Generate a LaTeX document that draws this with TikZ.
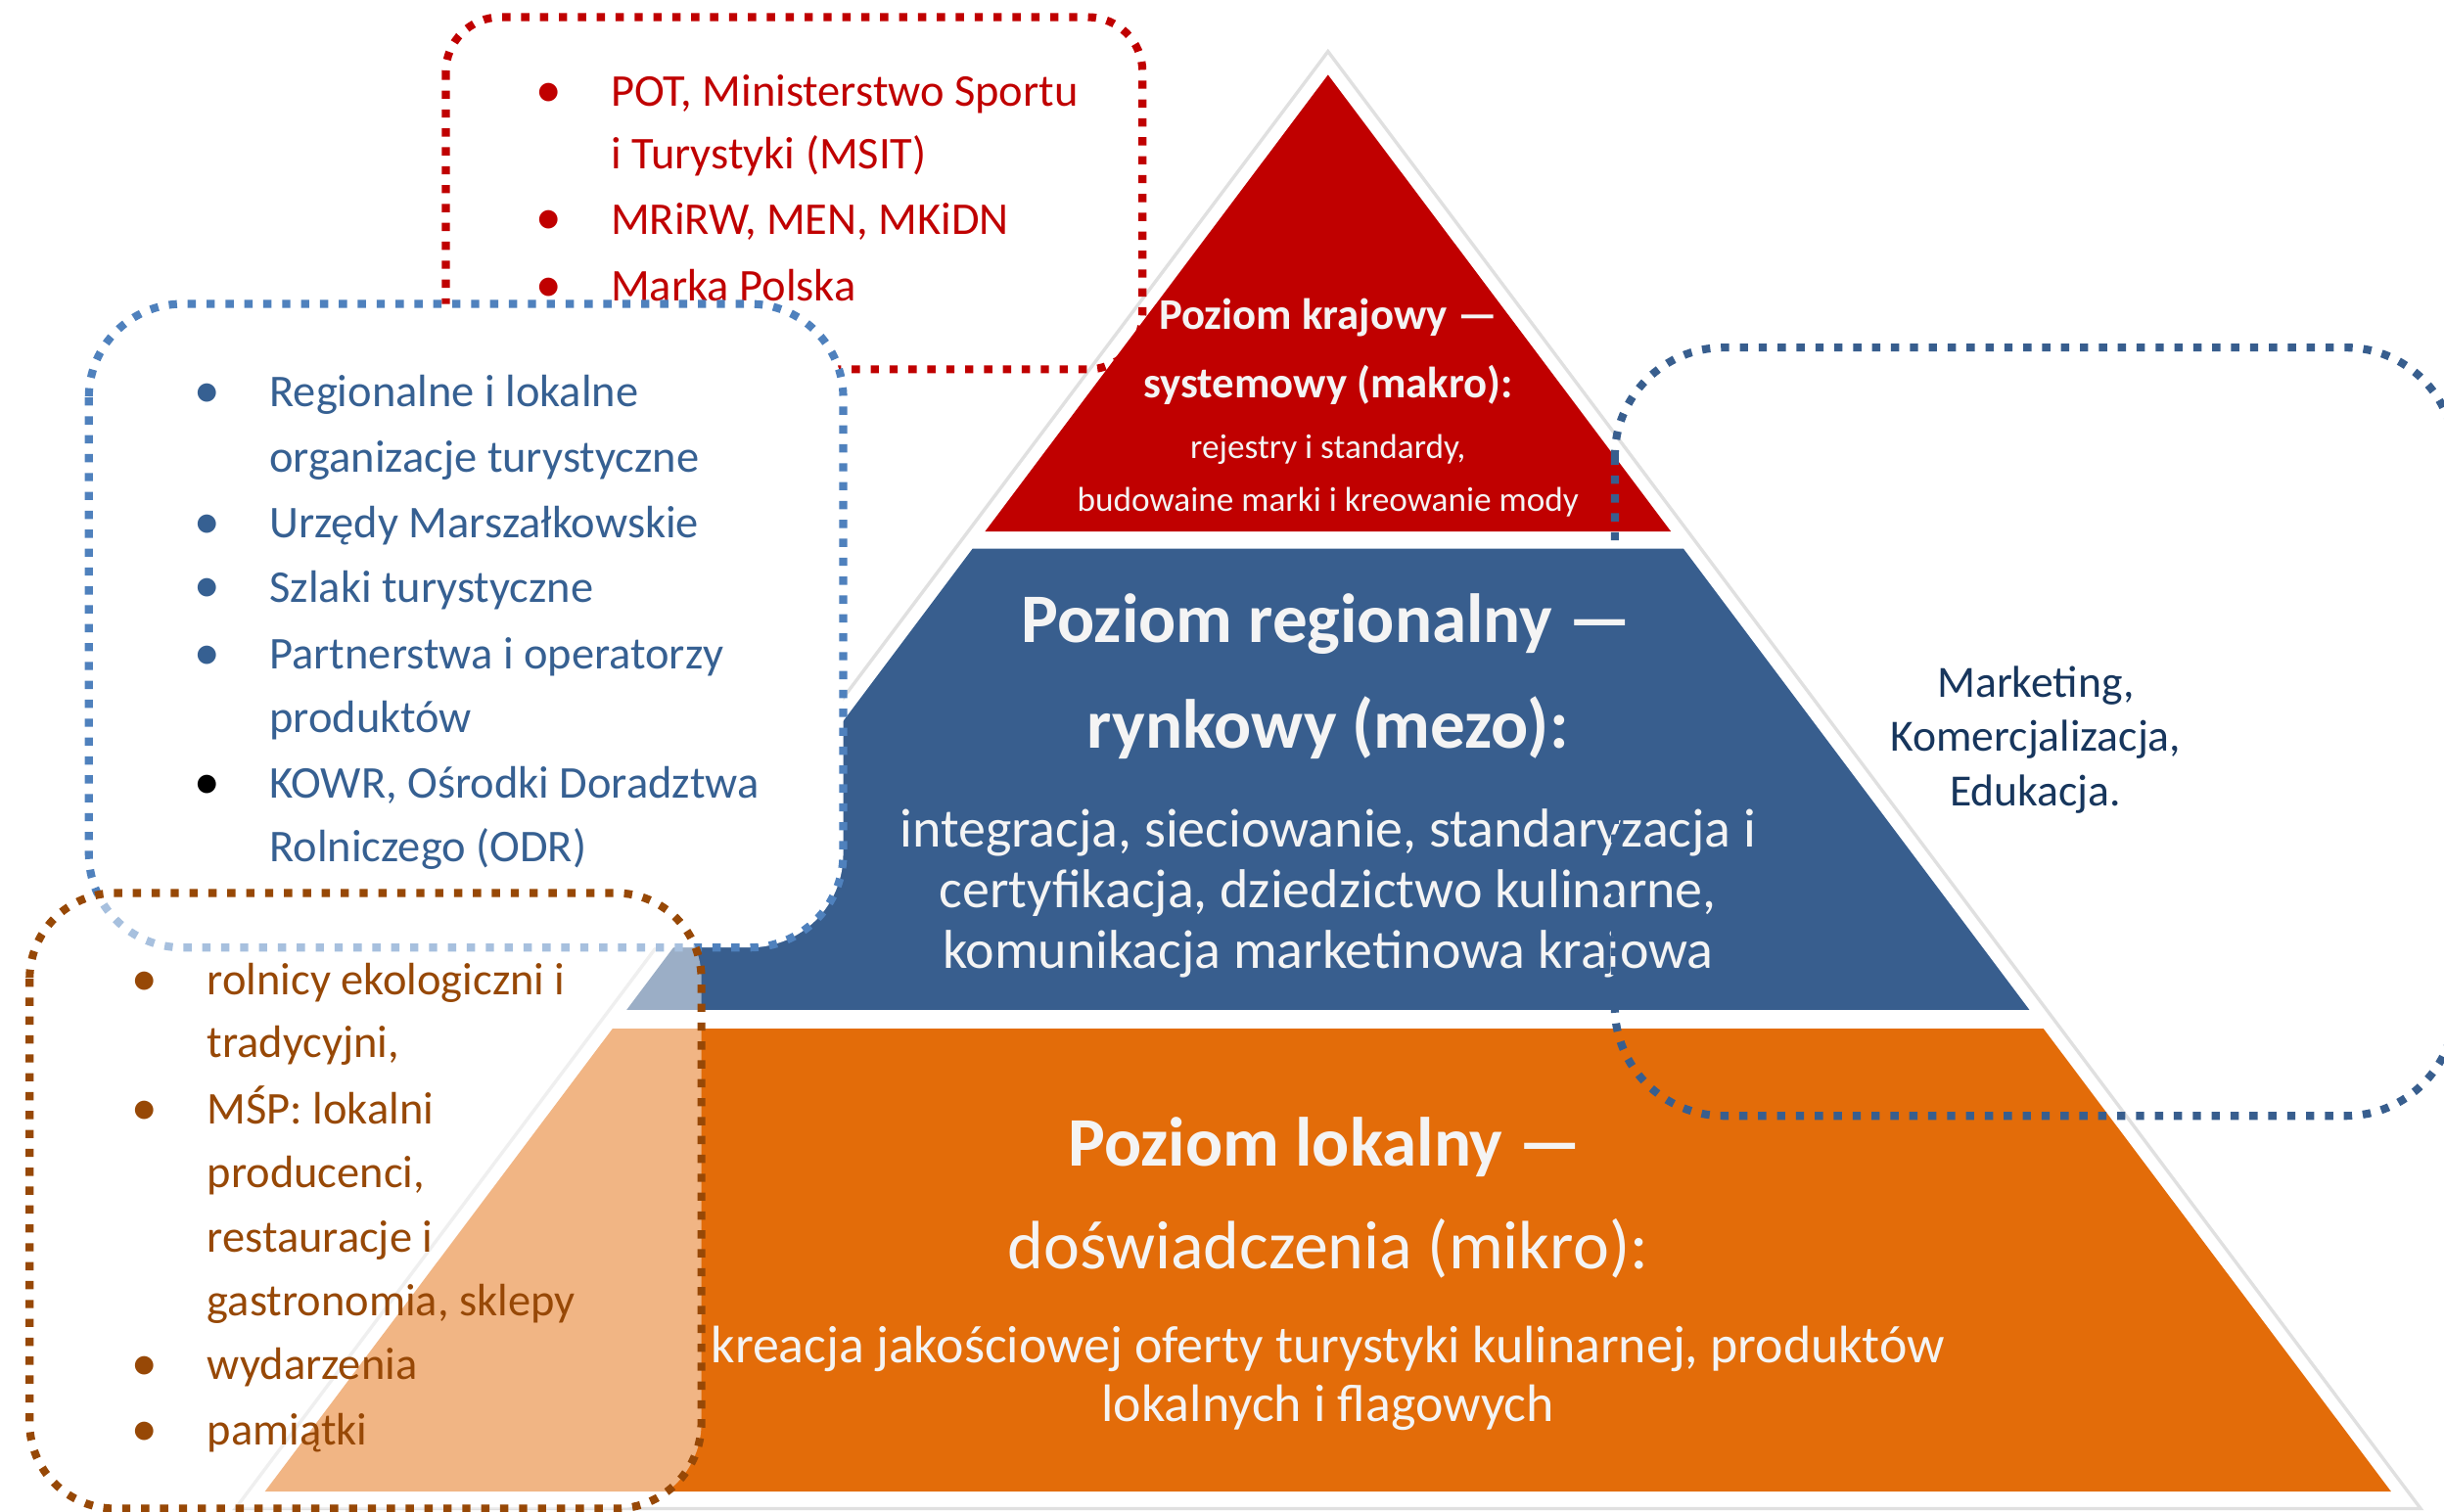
\documentclass[tikz,border=0pt]{standalone}
\usepackage{fontspec}
\setmainfont{Carlito}
\definecolor{cred}{RGB}{192,0,0}
\definecolor{cblue}{RGB}{56,94,142}
\definecolor{corange}{RGB}{227,108,9}
\definecolor{cbrown}{RGB}{151,72,6}
\definecolor{cltblue}{RGB}{79,129,189}
\definecolor{cbluetxt}{RGB}{54,96,146}
\definecolor{cnavy}{RGB}{23,54,93}
\definecolor{cwhite}{RGB}{244,244,244}
\tikzset{
  dotline/.style={line width=2.9pt, dash pattern=on 3pt off 3.9pt},
  txt/.style={inner sep=0pt, outer sep=0pt},
  lst/.style={txt, font=\fontsize{16.6}{24}\selectfont, anchor=mid west},
  bul/.style={txt, font=\fontsize{19}{24}\selectfont, anchor=center},
  ptxt/.style={txt, text=cwhite, anchor=mid},
  redtitle/.style={ptxt, font=\bfseries\fontsize{16}{25}\selectfont},
  redsub/.style={ptxt, font=\fontsize{12.6}{19}\selectfont},
  bigtitle/.style={ptxt, font=\bfseries\fontsize{25.4}{38}\selectfont},
  bigreg/.style={ptxt, font=\fontsize{25}{38}\selectfont},
  body/.style={ptxt, font=\fontsize{20}{22}\selectfont},
  obody/.style={ptxt, font=\fontsize{19.25}{21}\selectfont},
  mkt/.style={txt, text=cnavy, anchor=mid, font=\fontsize{16.3}{20}\selectfont},
}
\begin{document}
\begin{tikzpicture}[x=0.02cm,y=-0.02cm]
\useasboundingbox (0,0) rectangle (1568,970);
\fill[white] (0,0) rectangle (1568,970);

% outer triangle
\draw[fill=white, draw=black!12, line width=1.2pt] (852,33) -- (151,968) -- (1553,968) -- cycle;

% pyramid layers
\fill[cred]    (852,48) -- (632,341) -- (1072,341) -- cycle;
\fill[cblue]   (624,352) -- (1080,352) -- (1302,648) -- (402,648) -- cycle;
\fill[corange] (393,660) -- (1311,660) -- (1534,957) -- (170,957) -- cycle;

% pyramid texts
\node[redtitle] (k1) at (852,207) {Poziom krajowy —};
\node[redtitle] (k2) at (852,251) {systemowy (makro):};
\node[redsub]   (k3) at (852,290) {rejestry i standardy,};
\node[redsub]   (k4) at (852,324) {budowaine marki i kreowanie mody};

\node[bigtitle] (g1) at (851,408) {Poziom regionalny —};
\node[bigtitle] (g2) at (852,476) {rynkowy (mezo):};
\node[body] (g3) at (852,539) {integracja, sieciowanie, standaryzacja i};
\node[body] (g4) at (852,578) {certyfikacja, dziedzictwo kulinarne,};
\node[body] (g5) at (852,617) {komunikacja marketinowa krajowa};

\node[bigtitle] (l1) at (850,744) {Poziom lokalny —};
\node[bigreg]   (l2) at (852,810) {doświadczenia (mikro):};
\node[obody] (l3) at (852,870) {kreacja jakościowej oferty turystyki kulinarnej, produktów};
\node[obody] (l4) at (852,908) {lokalnych i flagowych};

% red box
\draw[dotline, cred, rounded corners=0.7cm] (286,11) rectangle (733,237);
\begin{scope}[text=cred]
\node[bul] (rb1) at (352,61) {•};
\node[bul] (rb2) at (352,143) {•};
\node[bul] (rb3) at (352,186) {•};
\node[lst] (r1) at (392,64) {POT, Ministerstwo Sportu};
\node[lst] (r2) at (392,104) {i Turystyki (MSIT)};
\node[lst] (r3) at (392,146) {MRiRW, MEN, MKiDN};
\node[lst] (r4) at (392,189) {Marka Polska};
\end{scope}

% blue box
\draw[dotline, cltblue, fill=white, rounded corners=1.2cm] (57,195) rectangle (541,608);
\begin{scope}[text=cbluetxt]
\node[bul] (bb1) at (133,254) {•};
\node[bul] (bb2) at (133,338) {•};
\node[bul] (bb3) at (133,379) {•};
\node[bul] (bb4) at (133,422) {•};
\node[bul, text=black] (bb5) at (133,505) {•};
\node[lst] (b1) at (173,257) {Regionalne i lokalne};
\node[lst] (b2) at (173,299) {organizacje turystyczne};
\node[lst] (b3) at (173,341) {Urzędy Marszałkowskie};
\node[lst] (b4) at (173,382) {Szlaki turystyczne};
\node[lst] (b5) at (173,425) {Partnerstwa i operatorzy};
\node[lst] (b6) at (173,466) {produktów};
\node[lst] (b7) at (173,508) {KOWR, Ośrodki Doradztwa};
\node[lst] (b8) at (173,549) {Rolniczego (ODR)};
\end{scope}

% brown box
\fill[white, fill opacity=0.5, rounded corners=1.1cm] (19,573) rectangle (450,968);
\draw[dotline, cbrown, rounded corners=1.1cm] (19,573) rectangle (450,968);
\begin{scope}[text=cbrown]
\node[bul] (ob1) at (93,631) {•};
\node[bul] (ob2) at (93,714) {•};
\node[bul] (ob3) at (93,878) {•};
\node[bul] (ob4) at (93,920) {•};
\node[lst] (o1) at (133,634) {rolnicy ekologiczni i};
\node[lst] (o2) at (133,674) {tradycyjni,};
\node[lst] (o3) at (133,717) {MŚP: lokalni};
\node[lst] (o4) at (133,758) {producenci,};
\node[lst] (o5) at (133,799) {restauracje i};
\node[lst] (o6) at (133,840) {gastronomia, sklepy};
\node[lst] (o7) at (133,881) {wydarzenia};
\node[lst] (o8) at (133,923) {pamiątki};
\end{scope}

% right box
\draw[dotline, cblue, rounded corners=1.4cm] (1036,223) rectangle (1575,716);
\node[mkt] (m1) at (1306,443) {Marketing,};
\node[mkt] (m2) at (1306,478) {Komercjalizacja,};
\node[mkt] (m3) at (1306,513) {Edukacja.};
\end{tikzpicture}
\end{document}
